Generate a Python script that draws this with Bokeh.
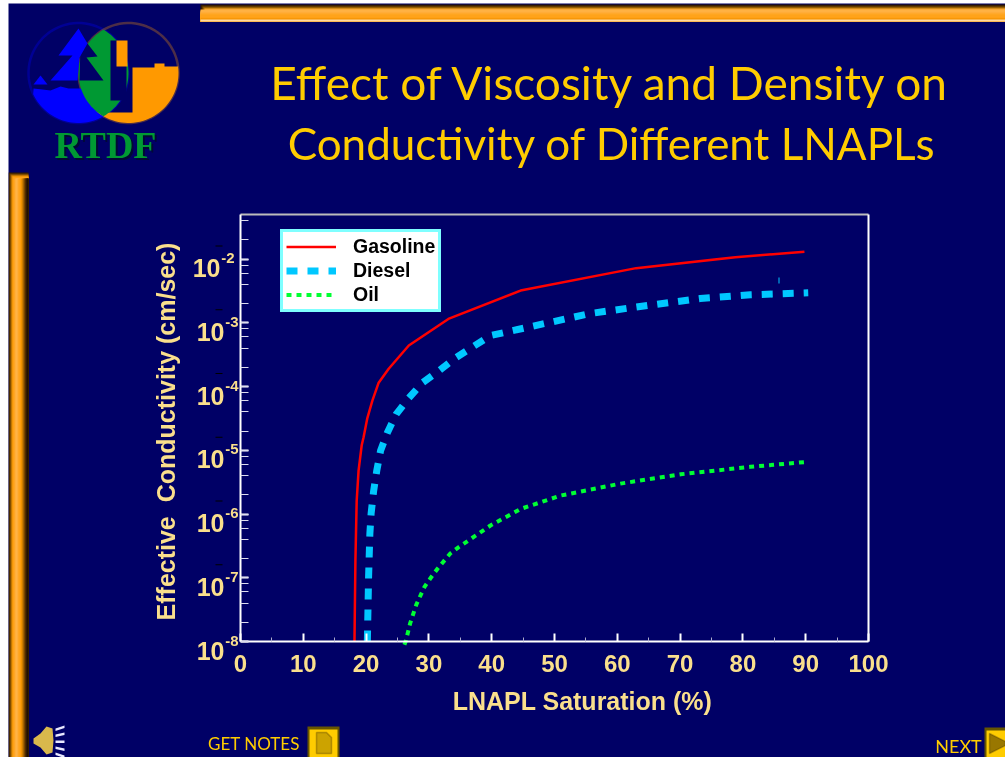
import numpy as np
from bokeh.plotting import figure
from bokeh.embed import file_html
from bokeh.resources import INLINE
from bokeh.models import Label, BoxAnnotation, PolyAnnotation, Legend, LegendItem, FixedTicker, LinearAxis, LogAxis, Range1d
from bokeh.models import LogTicker, LogScale

# ---------- data ----------
gasoline_x = [18.15, 18.3, 18.5, 18.8, 19.3, 19.6, 20.2, 21, 22, 23.6, 26.8, 33.1, 44.6, 63, 78.8, 89.8]
gasoline_y = [1e-8, 1.9e-7, 1.6e-6, 4.8e-6, 1.2e-5, 1.6e-5, 3.2e-5, 6e-5, 1.15e-4, 1.9e-4, 4.4e-4, 1.15e-3, 3.2e-3, 7.2e-3, 1.07e-2, 1.3e-2]
diesel_x = [20.2, 20.4, 20.6, 20.8, 21.2, 21.7, 22.3, 23.4, 24.8, 26.8, 29, 31.7, 34.2, 39.8, 46.2, 55.7, 65.3, 73.2, 81.2, 90.4]
diesel_y = [1e-8, 1.07e-7, 4.9e-7, 1.02e-6, 2.3e-6, 4.8e-6, 9.8e-6, 1.9e-5, 3.7e-5, 6.6e-5, 1.15e-4, 1.8e-4, 2.8e-4, 6.3e-4, 8.7e-4, 1.4e-3, 1.9e-3, 2.4e-3, 2.75e-3, 2.95e-3]
oil_x = [26.1, 26.3, 27, 28, 29.3, 30.3, 31.4, 33.4, 34.7, 39.8, 44.6, 51, 60.5, 70.1, 81.2, 90.4]
oil_y = [8.9e-9, 1e-8, 1.9e-8, 3.8e-8, 7.2e-8, 1e-7, 1.4e-7, 2.4e-7, 3e-7, 6.6e-7, 1.2e-6, 1.95e-6, 3e-6, 4.2e-6, 5.5e-6, 6.6e-6]
series_names = ["Gasoline", "Diesel", "Oil"]
x_ticks = [0, 10, 20, 30, 40, 50, 60, 70, 80, 90, 100]
y_exponents = [-8, -7, -6, -5, -4, -3, -2]
title_lines = ["Effect of Viscosity and Density on", "Conductivity of Different LNAPLs"]
X_LIMITS = (0, 100)
Y_LIMITS = (1e-8, 5e-2)

# ---------- page geometry: the plot frame fills the whole canvas ----------
OX, OY = 8, 3
W, H = 997, 754
L, R, T, B = 240, 868, 214, 641
NAVY = "#000066"
CREAM = "#FADF8C"
GOLD = "#FFCC00"
NARROW = "Lato"

xk = (X_LIMITS[1] - X_LIMITS[0]) / (R - L)
yk = np.log10(Y_LIMITS[1] / Y_LIMITS[0]) / (B - T)
x_start = X_LIMITS[0] + (OX - L) * xk
x_end = X_LIMITS[0] + (OX + W - L) * xk
y_start = Y_LIMITS[0] * 10 ** ((B - (OY + H)) * yk)
y_end = Y_LIMITS[0] * 10 ** ((B - OY) * yk)

p = figure(width=W, height=H, x_range=Range1d(x_start, x_end), y_range=Range1d(y_start, y_end),
           x_axis_type=None, y_axis_type=None, y_axis_location=None,
           output_backend="svg", toolbar_location=None, sizing_mode="fixed",
           min_border=0, min_border_left=0, min_border_right=0, min_border_top=0, min_border_bottom=0,
           background_fill_color=NAVY, border_fill_color=NAVY, outline_line_color=None)
p.y_scale = LogScale()
p.styles = {"position": "fixed", "left": f"{OX}px", "top": f"{OY}px"}
p.grid.visible = False

ax = LinearAxis(fixed_location=Y_LIMITS[0], bounds=X_LIMITS,
                ticker=FixedTicker(ticks=x_ticks, minor_ticks=[v + 5 for v in x_ticks[:-1]]))
ax.major_tick_in, ax.major_tick_out = 8, 0
ax.minor_tick_in, ax.minor_tick_out = 4, 0
ax.axis_line_color = "white"; ax.axis_line_width = 2
ax.major_tick_line_color = "white"; ax.major_tick_line_width = 2
ax.minor_tick_line_color = "#AAAACC"; ax.minor_tick_line_width = 1
ax.major_label_text_font = "Liberation Sans"; ax.major_label_text_font_style = "bold"
ax.major_label_text_font_size = "24px"; ax.major_label_text_color = CREAM
ax.major_label_standoff = 13
p.add_layout(ax, "below")

ay = LogAxis(fixed_location=X_LIMITS[0], bounds=Y_LIMITS, ticker=LogTicker())
ay.major_tick_in, ay.major_tick_out = 8, 0
ay.minor_tick_in, ay.minor_tick_out = 8, 0
ay.axis_line_color = "white"; ay.axis_line_width = 2
ay.major_tick_line_color = "white"; ay.major_tick_line_width = 2
ay.minor_tick_line_color = "#DDDDEE"; ay.minor_tick_line_width = 1
ay.major_label_overrides = {10.0 ** e: "" for e in range(-10, 1)}
ay.major_label_text_font_size = "1px"
p.add_layout(ay, "left")

# frame's top and right edges
p.line(X_LIMITS, [Y_LIMITS[1], Y_LIMITS[1]], line_color="#BBBBBB", line_width=2)
p.line([X_LIMITS[1], X_LIMITS[1]], Y_LIMITS, line_color="white", line_width=2)


def label(x, y, text, size, color, font="Liberation Sans", style="bold", align="left", base="middle", angle=0.0):
    p.add_layout(Label(x=x - OX, y=OY + H - y, x_units="screen", y_units="screen", text=text,
                       text_font=font, text_font_style=style, text_font_size=f"{size}px",
                       text_color=color, text_align=align, text_baseline=base, angle=angle))


def box(l, r, t, b, color):
    p.add_layout(BoxAnnotation(left=l - OX, right=r - OX, top=t - OY, bottom=b - OY,
                               left_units="canvas", right_units="canvas", top_units="canvas", bottom_units="canvas",
                               fill_color=color, fill_alpha=1, line_color=None, level="annotation"))


def poly(pts, fill, line=None, lw=0):
    a = np.array(pts, dtype=float)
    p.add_layout(PolyAnnotation(xs=list(a[:, 0] - OX), ys=list(a[:, 1] - OY), xs_units="canvas", ys_units="canvas",
                                fill_color=fill, fill_alpha=1 if fill else 0, line_color=line, line_width=lw,
                                level="annotation"))


def arc(x0, y0, r, a0, a1, n=40):
    t = np.radians(np.linspace(a0, a1, n))
    return list(zip(x0 + r * np.cos(t), y0 + r * np.sin(t)))


# ---------- slide frame (nested boxes, so that no navy shows between rows) ----------
top_bar = ["#2A1400", "#4A2A00", "#7A4A00", "#B07000", "#F0A030", "#FFB040", "#FFB347", "#FFB040", "#FFAA33",
           "#FFA826", "#FFA31A", "#FFA31A", "#FFA31A", "#FF9F10", "#F09000", "#FFD9A0"]
for i, c in enumerate(top_bar):
    box(200 + min(i, 4) if i < 5 else 200, 1005, 4 + i, 21, c)
left_bar = ["#301800", "#603800", "#A06000", "#E08A00", "#FF9F10", "#FFA31A", "#FFAA33", "#FFB347", "#FFB347", "#FFAA33",
            "#FFA31A", "#FFA31A", "#FF9900", "#E08A00", "#B87000", "#905500", "#603800", "#402000", "#281400", "#1A0C00"]
for i, c in enumerate(left_bar):
    box(8 + i, 28, 172 + min(i, 6), 757, c)

# ---------- logo ----------
LX, LY, RX, RY, RAD = 78, 72.5, 128, 72.5, 50
poly(arc(LX, LY, RAD, 0, 360, 80), None, "#0000FF", 2.5)
poly(arc(RX, RY, RAD, 0, 360, 80), None, "#FF9900", 2.5)
water = arc(LX, LY, RAD, 25, 155) + [(33, 88), (42, 89), (50, 90), (60, 86), (68, 88), (79, 88), (90, 88), (105, 88), (125, 88)]
poly(water, "#0000FF")
land = arc(RX, RY, RAD, -8, 130)
poly(land + [(103, 112), (132, 112), (132, 67), (154, 67), (154, 63), (164, 63), (164, 66), (178, 66)], "#FF9900")
lens = arc(LX, LY, RAD, -60, 60) + arc(RX, RY, RAD, 120, 240)
poly(lens, "#009933")
poly([(110, 40), (126, 40), (126, 100), (110, 100)], NAVY)
poly([(116, 40), (127, 40), (127, 66), (116, 66)], "#FF9900")
poly([(80, 44), (87, 43), (97, 56), (86, 57), (103, 80), (79, 80)], NAVY)
poly([(78, 28), (87, 43), (79, 57), (77, 80), (50, 80), (72, 55), (58, 55)], "#0000FF")
poly([(40, 75), (33, 84), (47, 84)], "#0000FF")
label(107, 146, "RTDF", 38, "#000A33", font="Liberation Serif", align="center")
label(105, 144, "RTDF", 38, "#009933", font="Liberation Serif", align="center")

# ---------- titles ----------
label(610.5, 82, title_lines[0], 46, GOLD, font=NARROW, style="normal", align="center")
label(611.5, 142, title_lines[1], 44, GOLD, font=NARROW, style="normal", align="center")

# ---------- curves ----------
r1 = p.line(gasoline_x, gasoline_y, line_color="#FF0000", line_width=2.5)
r2 = p.line(diesel_x, diesel_y, line_color="#00C8FF", line_width=7, line_dash="11 10")
r3 = p.line(oil_x, oil_y, line_color="#00FF33", line_width=4, line_dash="5 5")
leg = Legend(items=[LegendItem(label=n, renderers=[r]) for n, r in zip(series_names, [r1, r2, r3])],
             location=(280 - OX, OY + H - 312), margin=0, padding=3, spacing=1, label_height=19, glyph_height=19,
             glyph_width=50, label_standoff=17, label_text_font="Liberation Sans", label_text_font_style="bold",
             label_text_font_size="19.5px", label_text_color="black", background_fill_color="white",
             background_fill_alpha=1, border_line_color="#00FFFF", border_line_width=3)
p.add_layout(leg, "center")

# ---------- y tick labels ----------
for e in y_exponents:
    py = B - (e + 8) * (B - T) / np.log10(Y_LIMITS[1] / Y_LIMITS[0])
    shift = -4 if e == -2 else 0
    label(224 + shift, py + 9, "10", 25, CREAM, align="right")
    label(238 + shift, py - 1, str(e), 15, CREAM, align="right")
    if e > -8:
        box(215, 222, py - 13.5, py - 12.5, "#000000")

label(165, 431, "Effective \u00a0Conductivity (cm/sec)", 25, CREAM, align="center", angle=np.pi / 2)
label(582, 700, "LNAPL Saturation (%)", 25, CREAM, align="center")

# small cyan stray tick
box(778, 779, 277, 283, "#00C8FF")

# ---------- footer ----------
label(253.5, 743, "GET NOTES", 17, GOLD, font=NARROW, style="normal", align="center")
box(307, 339, 726, 757, "#665500")
box(309, 337, 729, 757, GOLD)
poly([(316, 732), (326, 732), (331, 737), (331, 753), (316, 753)], "#CCA300", "#332200", 1.5)
label(958, 745, "NEXT", 18, GOLD, font=NARROW, style="normal", align="center")
box(984, 1005, 727, 757, "#665500")
box(986, 1005, 730, 757, GOLD)
poly([(989, 733), (1005, 741), (1005, 745), (989, 753)], "#997700", "#332200", 1.5)
poly([(33, 738), (40, 733), (46, 726), (52, 728), (53, 740), (52, 752), (46, 754), (40, 747), (33, 743)], "#D9B84C")
for yy0, yy1 in [(728, 725), (734, 732), (740, 740), (746, 748), (752, 755)]:
    a = np.array([(55, yy0), (64, yy1), (64, yy1 + 2.5), (55, yy0 + 2.5)])
    poly(a, "#E8E8FF")

open("out.html", "w").write(file_html(p, INLINE))
